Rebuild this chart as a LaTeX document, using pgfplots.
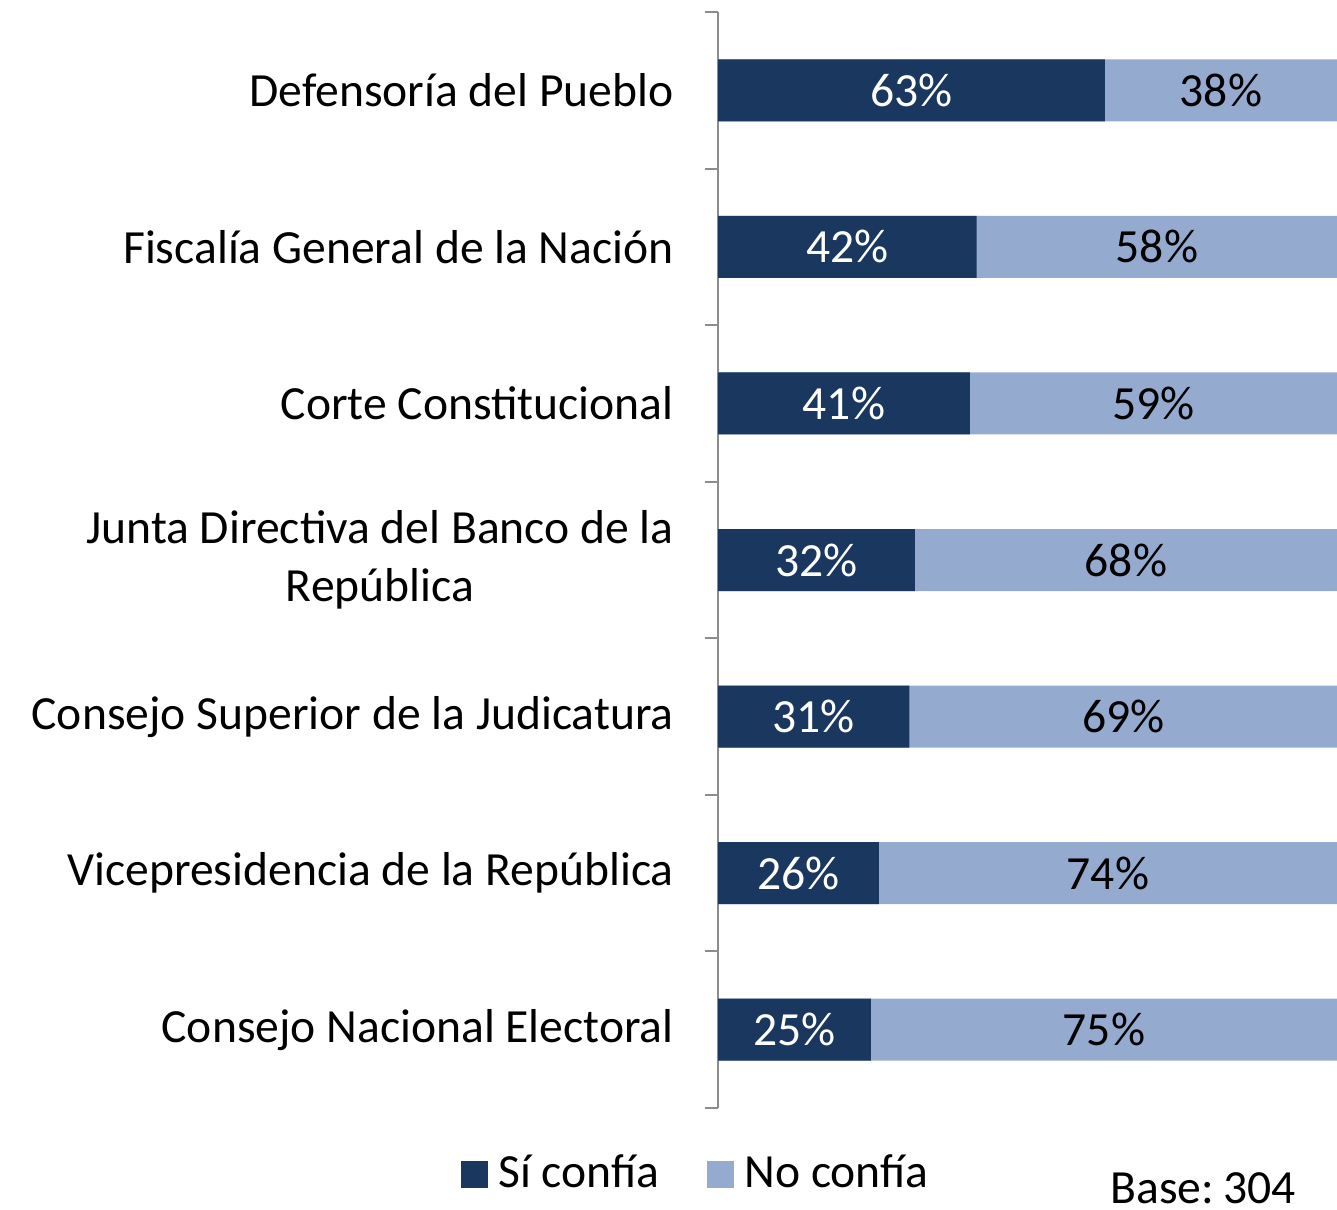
\documentclass[border=0pt]{standalone}
\usepackage{pgfplots}
\pgfplotsset{compat=1.18}
\usepackage{fontspec}
\setmainfont{Carlito}
\definecolor{si}{HTML}{1A3760}
\definecolor{no}{HTML}{95AACF}
\definecolor{axgray}{HTML}{8C8C8C}
\begin{document}
\fontsize{23.8pt}{29pt}\selectfont
\begin{tikzpicture}
\useasboundingbox (0,0) rectangle (668.5pt,-604.5pt);
\begin{axis}[
  at={(359pt,-6pt)}, anchor=north west,
  width=309.5pt, height=548pt, scale only axis,
  xmin=0, xmax=100, ymin=-0.5, ymax=6.5, y dir=reverse,
  axis x line=none, axis y line*=left,
  axis line style={draw=axgray, line width=1pt},
  ytick={0,...,6},
  yticklabels={Defensoría del Pueblo, Fiscalía General de la Nación, Corte Constitucional, {Junta Directiva del Banco de la\\República}, Consejo Superior de la Judicatura, Vicepresidencia de la República, Consejo Nacional Electoral},
  yticklabel style={align=center, xshift=-14pt},
  major tick length=0pt,
  minor ytick={-0.5,0.5,...,6.5},
  minor tick length=6.5pt,
  tick align=outside,
  minor tick style={draw=axgray, line width=1pt},
  clip=false,
  legend style={at={(-0.034,-0.061)}, anchor=center, draw=none, fill=none, legend columns=2,
    /tikz/every even column/.append style={column sep=22pt},
    /tikz/every odd column/.append style={column sep=3pt}},
  legend image code/.code={\fill[#1] (0pt,-6.75pt) rectangle (13.5pt,6.75pt);},
]
\addplot[xbar, bar width=31pt, bar shift=0pt, fill=no, draw=none, forget plot]
  coordinates {(100,0) (100,1) (100,2) (100,3) (100,4) (100,5) (100,6)};
\addplot[xbar, bar width=31pt, bar shift=0pt, fill=si, draw=none]
  coordinates {(62.5,0) (41.8,1) (40.7,2) (31.8,3) (30.9,4) (26.0,5) (24.7,6)};
\addlegendentry{Sí confía}
\addlegendimage{fill=no, draw=none}
\addlegendentry{No confía}
\addplot[draw=none, mark=none, nodes near coords={\pgfplotspointmeta\%}, point meta=explicit symbolic,
  nodes near coords style={anchor=center, text=white}, forget plot]
  coordinates {(31.25,0) [63] (20.9,1) [42] (20.35,2) [41] (15.9,3) [32] (15.45,4) [31] (13.0,5) [26] (12.35,6) [25]};
\addplot[draw=none, mark=none, nodes near coords={\pgfplotspointmeta\%}, point meta=explicit symbolic,
  nodes near coords style={anchor=center, text=black}, forget plot]
  coordinates {(81.25,0) [38] (70.9,1) [58] (70.35,2) [59] (65.9,3) [68] (65.45,4) [69] (63.0,5) [74] (62.35,6) [75]};
\node[anchor=base east, inner sep=0pt] at (axis description cs:0.934,-0.0875) {Base:\kern4.5pt 304};
\end{axis}
\end{tikzpicture}
\end{document}
